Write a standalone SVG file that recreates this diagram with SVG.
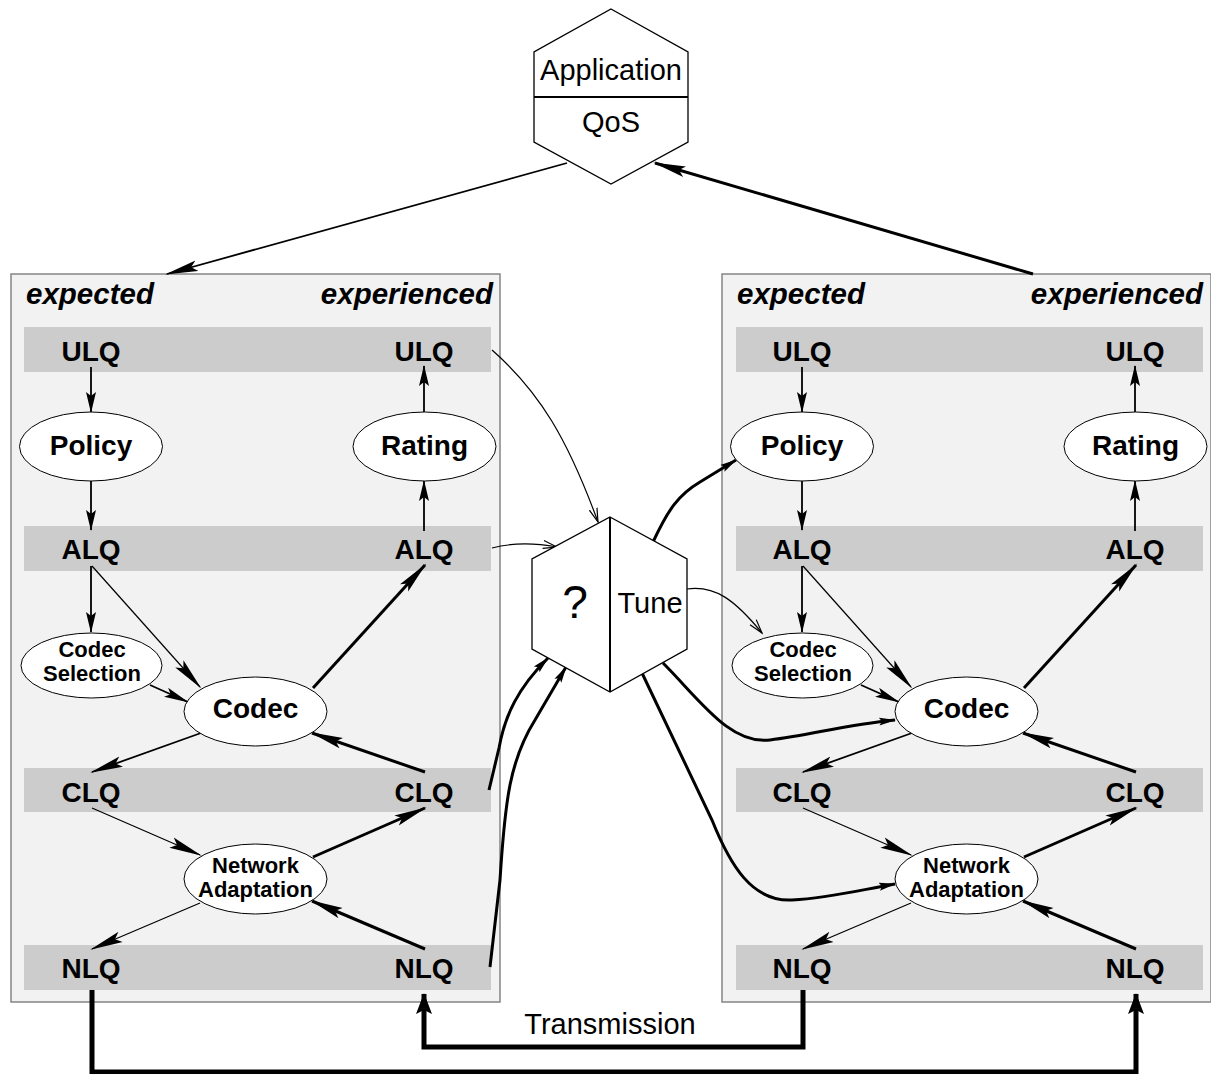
<svg xmlns="http://www.w3.org/2000/svg" width="1211" height="1074" viewBox="0 0 1211 1074">
<style>
.panel{fill:#f2f2f2;stroke:#858585;stroke-width:1.5}
.band{fill:#cccccc}
.ell{fill:#ffffff;stroke:#000;stroke-width:1}
.hex{fill:#ffffff;stroke:#000;stroke-width:1.3}
.t{font-family:"Liberation Sans",Arial,Helvetica,sans-serif;fill:#000}
.b28{font-size:28px;font-weight:bold;text-anchor:middle}
.b23{font-size:22px;font-weight:bold;text-anchor:middle}
.hd{font-size:29.5px;font-weight:bold;font-style:italic}
.r29{font-size:29px;text-anchor:middle}
.c{fill:none;stroke:#000;stroke-linecap:butt}
.w1{stroke-width:1.2}
.w2{stroke-width:1.8}
.w3{stroke-width:3}
.w5{stroke-width:5}
</style>
<defs>
<marker id="hs" markerUnits="userSpaceOnUse" orient="auto" markerWidth="22" markerHeight="12" refX="20" refY="5" viewBox="0 0 22 10"><path d="M0,0 L21,5 L0,10 L4,5 Z" fill="#000"/></marker>
<marker id="hb" markerUnits="userSpaceOnUse" orient="auto" markerWidth="34" markerHeight="12" refX="31" refY="5.5" viewBox="0 0 34 11"><path d="M0,0 L33,5.5 L0,11 L6,5.5 Z" fill="#000"/></marker>
<marker id="hm" markerUnits="userSpaceOnUse" orient="auto" markerWidth="26" markerHeight="11" refX="24" refY="5" viewBox="0 0 26 10"><path d="M0,0 L25,5 L0,10 L5,5 Z" fill="#000"/></marker>
<marker id="ht" markerUnits="userSpaceOnUse" orient="auto" markerWidth="22" markerHeight="16" refX="20" refY="8" viewBox="0 0 22 16"><path d="M0,0 L21,8 L0,16 L4,8 Z" fill="#000"/></marker>
<marker id="ho" markerUnits="userSpaceOnUse" orient="auto" markerWidth="16" markerHeight="10" refX="14" refY="4.5" viewBox="0 0 16 9"><path d="M0,0.5 L14,4.5 L0,8.5" fill="none" stroke="#000" stroke-width="1.2"/></marker>
<marker id="hc" markerUnits="userSpaceOnUse" orient="auto" markerWidth="18" markerHeight="10" refX="16" refY="4" viewBox="0 0 18 8"><path d="M0,0 L17,4 L0,8 L3,4 Z" fill="#000"/></marker>
</defs>
<rect width="1211" height="1074" fill="#ffffff"/>

<g id="panel-left">
<rect class="panel" x="11" y="274" width="489" height="728"/>
<rect class="band" x="24" y="327" width="467" height="45"/>
<rect class="band" x="24" y="526" width="467" height="45"/>
<rect class="band" x="24" y="768" width="467" height="44"/>
<rect class="band" x="24" y="945" width="467" height="45"/>
<text class="t hd" x="26" y="304">expected</text>
<text class="t hd" x="493" y="304" text-anchor="end">experienced</text>
</g>
<g id="panel-right">
<rect class="panel" x="722" y="274" width="489" height="728"/>
<rect class="band" x="736" y="327" width="467" height="45"/>
<rect class="band" x="736" y="526" width="467" height="45"/>
<rect class="band" x="736" y="768" width="467" height="44"/>
<rect class="band" x="736" y="945" width="467" height="45"/>
<text class="t hd" x="737" y="304">expected</text>
<text class="t hd" x="1203" y="304" text-anchor="end">experienced</text>
</g>

<g id="connectors">
<line class="c w2" x1="567" y1="163" x2="167" y2="274" marker-end="url(#hb)"/>
<line class="c w3" x1="1033" y1="274" x2="655" y2="163" marker-end="url(#hb)"/>
<line class="c w2" x1="91" y1="367" x2="91" y2="412" marker-end="url(#hs)"/>
<line class="c w2" x1="91" y1="481" x2="91" y2="530" marker-end="url(#hs)"/>
<line class="c w2" x1="424" y1="531" x2="424" y2="481" marker-end="url(#hs)"/>
<line class="c w2" x1="424" y1="412" x2="424" y2="366" marker-end="url(#hs)"/>
<line class="c w2" x1="91" y1="566" x2="91" y2="632" marker-end="url(#hs)"/>
<line class="c w1" x1="92" y1="566" x2="200" y2="687" marker-end="url(#hb)"/>
<line class="c w2" x1="150" y1="685" x2="188" y2="702" marker-end="url(#hm)"/>
<line class="c w2" x1="201" y1="733" x2="92" y2="772" marker-end="url(#hb)"/>
<line class="c w1" x1="92" y1="808" x2="200" y2="855" marker-end="url(#hb)"/>
<line class="c w1" x1="200" y1="903" x2="92" y2="949" marker-end="url(#hb)"/>
<line class="c w3" x1="313" y1="688" x2="425" y2="565" marker-end="url(#hb)"/>
<line class="c w3" x1="425" y1="772" x2="312" y2="733" marker-end="url(#hb)"/>
<line class="c w3" x1="313" y1="857" x2="425" y2="808" marker-end="url(#hb)"/>
<line class="c w3" x1="425" y1="949" x2="312" y2="901" marker-end="url(#hb)"/>
<line class="c w2" x1="802" y1="367" x2="802" y2="412" marker-end="url(#hs)"/>
<line class="c w2" x1="802" y1="481" x2="802" y2="530" marker-end="url(#hs)"/>
<line class="c w2" x1="1135" y1="531" x2="1135" y2="481" marker-end="url(#hs)"/>
<line class="c w2" x1="1135" y1="412" x2="1135" y2="366" marker-end="url(#hs)"/>
<line class="c w2" x1="802" y1="566" x2="802" y2="632" marker-end="url(#hs)"/>
<line class="c w1" x1="803" y1="566" x2="911" y2="687" marker-end="url(#hb)"/>
<line class="c w2" x1="861" y1="685" x2="899" y2="702" marker-end="url(#hm)"/>
<line class="c w2" x1="912" y1="733" x2="803" y2="772" marker-end="url(#hb)"/>
<line class="c w1" x1="803" y1="808" x2="911" y2="855" marker-end="url(#hb)"/>
<line class="c w1" x1="911" y1="903" x2="803" y2="949" marker-end="url(#hb)"/>
<line class="c w3" x1="1024" y1="688" x2="1136" y2="565" marker-end="url(#hb)"/>
<line class="c w3" x1="1136" y1="772" x2="1023" y2="733" marker-end="url(#hb)"/>
<line class="c w3" x1="1024" y1="857" x2="1136" y2="808" marker-end="url(#hb)"/>
<line class="c w3" x1="1136" y1="949" x2="1023" y2="901" marker-end="url(#hb)"/>
<path class="c w5" d="M92,990 V1072 H1136 V994" marker-end="url(#ht)"/>
<path class="c w5" d="M803,990 V1047 H424 V994" marker-end="url(#ht)"/>
<path class="c w1" d="M492,350 C540,392 568,440 598,522" marker-end="url(#ho)"/>
<path class="c w1" d="M492,548 C515,542 535,543 557,547" marker-end="url(#ho)"/>
<path class="c w3" d="M653,542 C668,510 678,495 700,482 L736,460" marker-end="url(#hc)"/>
<path class="c w1" d="M687,589 C715,585 735,600 762,633" marker-end="url(#ho)"/>
<path class="c w3" d="M663,663 C700,700 730,745 770,740 C810,735 845,725 895,720" marker-end="url(#hc)"/>
<path class="c w3" d="M642,673 L712,820 C730,865 752,902 792,900 C830,898 860,890 895,884" marker-end="url(#hc)"/>
<path class="c w3" d="M489,790 L499,748 C505,715 518,688 548,658" marker-end="url(#hc)"/>
<path class="c w3" d="M490,967 L500,880 C505,800 510,760 535,720 L566,667" marker-end="url(#hc)"/>
</g>

<g id="node-application">
<polygon class="hex" points="611,9 688,52 688,142 611,184 534,142 534,52"/>
<line x1="534" y1="97" x2="688" y2="97" stroke="#000" stroke-width="2"/>
<text class="t r29" x="611" y="80">Application</text>
<text class="t r29" x="611" y="132">QoS</text>
</g>

<g id="node-tune">
<polygon class="hex" points="610,517 687,559 687,649 610,692 532,649 532,559"/>
<line x1="610" y1="517" x2="610" y2="692" stroke="#000" stroke-width="2"/>
<text class="t" x="575" y="618" font-size="46" text-anchor="middle">?</text>
<text class="t" x="650" y="613" font-size="29" text-anchor="middle">Tune</text>
</g>

<g id="node-left-labels">
<text class="t b28" x="91" y="361">ULQ</text>
<text class="t b28" x="424" y="361">ULQ</text>
<text class="t b28" x="91" y="559">ALQ</text>
<text class="t b28" x="424" y="559">ALQ</text>
<text class="t b28" x="91" y="802">CLQ</text>
<text class="t b28" x="424" y="802">CLQ</text>
<text class="t b28" x="91" y="978">NLQ</text>
<text class="t b28" x="424" y="978">NLQ</text>
</g>
<g id="node-left-policy"><ellipse class="ell" cx="91" cy="446.5" rx="71.5" ry="34.5"/><text class="t b28" x="91" y="455">Policy</text></g>
<g id="node-left-rating"><ellipse class="ell" cx="424.5" cy="446.5" rx="71.5" ry="34.5"/><text class="t b28" x="424.5" y="455">Rating</text></g>
<g id="node-left-codecsel"><ellipse class="ell" cx="91.5" cy="665.5" rx="70.5" ry="32.5"/><text class="t b23" x="92" y="657">Codec</text><text class="t b23" x="92" y="681">Selection</text></g>
<g id="node-left-codec"><ellipse class="ell" cx="255.5" cy="711.5" rx="71.5" ry="34.5"/><text class="t b28" x="255.5" y="718">Codec</text></g>
<g id="node-left-netadapt"><ellipse class="ell" cx="255.5" cy="879" rx="71.5" ry="35"/><text class="t b23" x="255.5" y="873">Network</text><text class="t b23" x="255.5" y="897">Adaptation</text></g>

<g id="node-right-labels">
<text class="t b28" x="802" y="361">ULQ</text>
<text class="t b28" x="1135" y="361">ULQ</text>
<text class="t b28" x="802" y="559">ALQ</text>
<text class="t b28" x="1135" y="559">ALQ</text>
<text class="t b28" x="802" y="802">CLQ</text>
<text class="t b28" x="1135" y="802">CLQ</text>
<text class="t b28" x="802" y="978">NLQ</text>
<text class="t b28" x="1135" y="978">NLQ</text>
</g>
<g id="node-right-policy"><ellipse class="ell" cx="802" cy="446.5" rx="71.5" ry="34.5"/><text class="t b28" x="802" y="455">Policy</text></g>
<g id="node-right-rating"><ellipse class="ell" cx="1135.5" cy="446.5" rx="71.5" ry="34.5"/><text class="t b28" x="1135.5" y="455">Rating</text></g>
<g id="node-right-codecsel"><ellipse class="ell" cx="802.5" cy="665.5" rx="70.5" ry="32.5"/><text class="t b23" x="803" y="657">Codec</text><text class="t b23" x="803" y="681">Selection</text></g>
<g id="node-right-codec"><ellipse class="ell" cx="966.5" cy="711.5" rx="71.5" ry="34.5"/><text class="t b28" x="966.5" y="718">Codec</text></g>
<g id="node-right-netadapt"><ellipse class="ell" cx="966.5" cy="879" rx="71.5" ry="35"/><text class="t b23" x="966.5" y="873">Network</text><text class="t b23" x="966.5" y="897">Adaptation</text></g>

<g id="label-transmission"><text class="t r29" x="610" y="1034">Transmission</text></g>
</svg>
